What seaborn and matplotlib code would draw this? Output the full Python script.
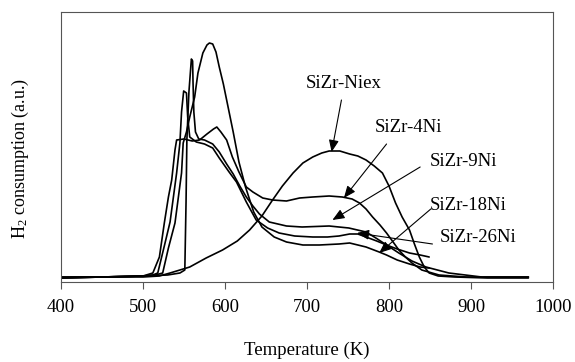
import numpy as np
import pandas as pd
import matplotlib
matplotlib.use('Agg')
import matplotlib.pyplot as plt
import seaborn as sns

# ---------------- data (temperature in K, H2 consumption in a.u.) ----------------
T_niex = [400, 450, 500, 520, 533, 545, 557, 577, 597, 615, 630, 645, 658, 670, 683, 695,
          707, 718, 727, 740, 752, 762, 772, 782, 792, 800, 808, 816, 825, 831, 837, 843,
          849, 860, 880, 920, 970]
v_niex = [4, 5, 5, 6, 9, 12, 15, 24, 32, 41, 52, 66, 82, 96, 109, 119,
          125, 129, 131, 131, 128, 126, 122, 116, 109, 96, 79, 65, 52, 38, 25, 15,
          9, 6, 5, 4, 4]

T_4ni = [400, 450, 500, 512, 520, 526, 531, 535, 539, 541, 550, 560, 569, 578, 586, 590,
         595, 602, 609, 617, 626, 634, 646, 658, 675, 691, 707, 727, 743, 755, 764, 772,
         780, 789, 797, 805, 812, 820, 828, 840, 861, 894, 934, 970]
v_4ni = [4, 5, 6, 9, 25, 59, 85, 102, 132, 142, 143, 141, 142, 148, 153, 155,
         150, 142, 125, 110, 95, 90, 84, 82, 81, 84, 85, 86, 85, 83, 79, 73,
         65, 57, 49, 40, 32, 25, 19, 12, 7, 5, 5, 5]

T_9ni = [400, 450, 500, 530, 545, 551, 552.5, 553.5, 556, 559, 560.5, 561, 562, 564, 568,
         575, 585, 593, 602, 610, 618, 626, 634, 642, 654, 675, 694, 727, 751, 772, 784,
         797, 812, 828, 845, 873, 913, 970]
v_9ni = [5, 5, 6, 7, 9, 12, 80, 142, 190, 223, 221, 200, 170, 150, 143,
         142, 138, 130, 118, 108, 96, 85, 76, 68, 60, 56, 55, 56, 54, 50, 44,
         37, 29, 21, 15, 9, 5, 5]

T_18ni = [400, 450, 500, 515, 524, 531, 539, 547, 549, 553, 557, 563, 567, 573, 578, 581,
          585, 589, 593, 598, 602, 610, 617, 625, 635, 645, 660, 675, 695, 715, 739, 752,
          772, 788, 797, 810, 825, 838, 849]
v_18ni = [4, 5, 6, 7, 9, 34, 59, 109, 139, 150, 165, 185, 209, 229, 237, 239,
          238, 230, 215, 198, 182, 150, 120, 95, 70, 55, 45, 40, 37, 37, 38, 39,
          35, 30, 27, 22, 18, 15, 14]

T_26ni = [400, 450, 500, 512, 518, 526, 533, 541, 545, 547, 549.6, 553, 554.5, 557, 565,
          575, 585, 593, 605, 614, 626, 638, 652, 666, 685, 707, 725, 739, 752, 762, 772,
          785, 797, 810, 825, 838, 849]
v_26ni = [5, 5, 6, 7, 9, 36, 60, 109, 139, 170, 191, 189, 165, 145, 140,
          138, 134, 124, 110, 100, 80, 62, 54, 49, 46, 45, 45, 46, 48, 48, 45,
          41, 37, 33, 29, 27, 25]

labels = ['SiZr-Niex', 'SiZr-4Ni', 'SiZr-9Ni', 'SiZr-18Ni', 'SiZr-26Ni']
label_xy = [(745, 199), (824, 154), (891, 120), (897, 77), (909, 44)]
arrow_from = [(742, 182), (797, 138), (838, 115), (851, 73), (853, 38)]
arrow_to = [(730, 130), (745, 84), (731, 62), (788, 29), (761, 49)]

x_ticks = [400, 500, 600, 700, 800, 900, 1000]
x_label = 'Temperature (K)'
y_label = r'H$_\mathrm{2}$ consumption (a.u.)'

# ---------------- build long table ----------------
series = [T_niex, T_4ni, T_9ni, T_18ni, T_26ni]
values = [v_niex, v_4ni, v_9ni, v_18ni, v_26ni]
frames = []
for name, T, v in zip(labels, series, values):
    frames.append(pd.DataFrame({'T': T, 'v': v, 'sample': name}))
df = pd.concat(frames, ignore_index=True)

# ---------------- style ----------------
sns.set_theme(style='white')
plt.rcParams['font.family'] = ['Liberation Serif', 'DejaVu Serif']
plt.rcParams['mathtext.fontset'] = 'custom'
plt.rcParams['mathtext.rm'] = 'Liberation Serif'
plt.rcParams['mathtext.it'] = 'Liberation Serif:italic'

fig = plt.figure(figsize=(5.75, 3.62), dpi=100)
ax = fig.add_axes([61 / 575, 1 - 282 / 362, 492 / 575, 270 / 362])

sns.lineplot(data=df, x='T', y='v', units='sample', estimator=None, sort=False,
             color='black', lw=1.2, ax=ax, legend=False)

ax.set_xlim(400, 1000)
ax.set_ylim(0, 270)
ax.set_xticks(x_ticks)
ax.set_xticklabels([str(t) for t in x_ticks])
ax.set_yticks([])

spine_col = '#555555'
for s in ax.spines.values():
    s.set_visible(True)
    s.set_color(spine_col)
    s.set_linewidth(0.8)

ax.tick_params(axis='x', which='both', direction='out', length=5, width=0.8,
               color=spine_col, labelsize=13.5, pad=7, bottom=True, labelcolor='black')

ax.set_xlabel(x_label, fontsize=13.5, va='center', color='black')
ax.xaxis.set_label_coords(0.5, (282 - 350) / 270)
ax.set_ylabel(y_label, fontsize=13, va='center', color='black')
ax.yaxis.set_label_coords((20 - 61) / 492, (282 - 158) / 270)

for lab, pos, a0, a1 in zip(labels, label_xy, arrow_from, arrow_to):
    ax.text(pos[0], pos[1], lab, fontsize=13.5, ha='center', va='center', color='black')
    ax.annotate('', xy=a1, xytext=a0,
                arrowprops=dict(arrowstyle='-|>,head_length=0.6,head_width=0.25',
                                color='black', lw=0.8, mutation_scale=12,
                                shrinkA=0, shrinkB=0))

fig.savefig('out.png', dpi=100)
